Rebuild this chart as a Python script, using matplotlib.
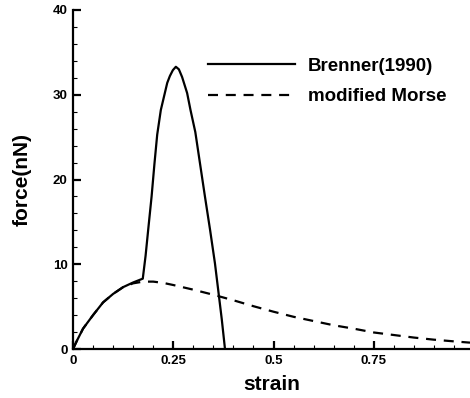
import matplotlib
matplotlib.use("Agg")
from matplotlib import pyplot as plt
from matplotlib.ticker import MultipleLocator, FixedFormatter, FixedLocator

plt.rcParams['font.family'] = ['Liberation Sans', 'DejaVu Sans']
plt.rcParams['font.weight'] = 'bold'

# Brenner(1990) curve
brenner_strain = [0, 0.01, 0.025, 0.05, 0.075, 0.1, 0.125, 0.15, 0.174,
                  0.181, 0.188, 0.196, 0.203, 0.21, 0.219, 0.229, 0.235,
                  0.2415, 0.249, 0.2565, 0.264, 0.272, 0.2846, 0.293, 0.305,
                  0.317, 0.329, 0.342, 0.354, 0.362, 0.371, 0.379]
brenner_force = [0, 1.0, 2.4, 4.0, 5.5, 6.5, 7.3, 7.85, 8.3,
                 11.0, 14.3, 18.0, 21.8, 25.3, 28.2, 30.2, 31.4,
                 32.2, 32.9, 33.3, 33.0, 32.1, 30.2, 28.2, 25.6,
                 21.8, 18.0, 14.0, 10.1, 7.0, 3.5, 0]

# modified Morse curve
morse_strain = [0, 0.01, 0.025, 0.05, 0.075, 0.1, 0.125, 0.15, 0.175, 0.2,
                0.225, 0.25, 0.3, 0.35, 0.4, 0.45, 0.5, 0.55, 0.6, 0.65,
                0.7, 0.75, 0.8, 0.85, 0.9, 0.95, 0.99]
morse_force = [0, 1.0, 2.4, 4.0, 5.5, 6.5, 7.3, 7.75, 7.95, 7.95,
               7.8, 7.55, 7.0, 6.4, 5.75, 5.05, 4.4, 3.8, 3.3, 2.8,
               2.4, 1.95, 1.65, 1.35, 1.1, 0.9, 0.75]

xticks = [0, 0.25, 0.5, 0.75]
xticklabels = ['0', '0.25', '0.5', '0.75']
yticks = [0, 10, 20, 30, 40]

fig = plt.figure(figsize=(4.7, 3.98), dpi=100)
ax = fig.add_axes([73/470, 1 - 349/398, 1 - 73/470, (349 - 10)/398])

ax.plot(brenner_strain, brenner_force, color='black', lw=1.6, label='Brenner(1990)')
ax.plot(morse_strain, morse_force, color='black', lw=1.6, dashes=(4.5, 3.5),
        label='modified Morse')

ax.set_xlim(0, 0.99)
ax.set_ylim(0, 40)
ax.xaxis.set_major_locator(FixedLocator(xticks))
ax.xaxis.set_major_formatter(FixedFormatter(xticklabels))
ax.xaxis.set_minor_locator(MultipleLocator(0.05))
ax.yaxis.set_major_locator(FixedLocator(yticks))
ax.yaxis.set_minor_locator(MultipleLocator(2))

for s in ['top', 'right']:
    ax.spines[s].set_visible(False)
for s in ['left', 'bottom']:
    ax.spines[s].set_linewidth(1.6)

ax.tick_params(which='major', direction='in', length=6, width=1.6,
               labelsize=9.5, pad=4)
ax.tick_params(which='minor', direction='in', length=3, width=0.8)
for lab in ax.get_xticklabels() + ax.get_yticklabels():
    lab.set_fontweight('bold')

ax.set_xlabel('strain', fontsize=15, fontweight='bold', labelpad=6)
ax.set_ylabel('force(nN)', fontsize=15, fontweight='bold', labelpad=15)

leg = ax.legend(loc='upper left', bbox_to_anchor=(0.297, 0.909), frameon=False,
                fontsize=13.5, handlelength=4.64, handletextpad=0.7,
                labelspacing=0.72)
for t in leg.get_texts():
    t.set_fontweight('bold')

fig.savefig('out.png', dpi=100)
